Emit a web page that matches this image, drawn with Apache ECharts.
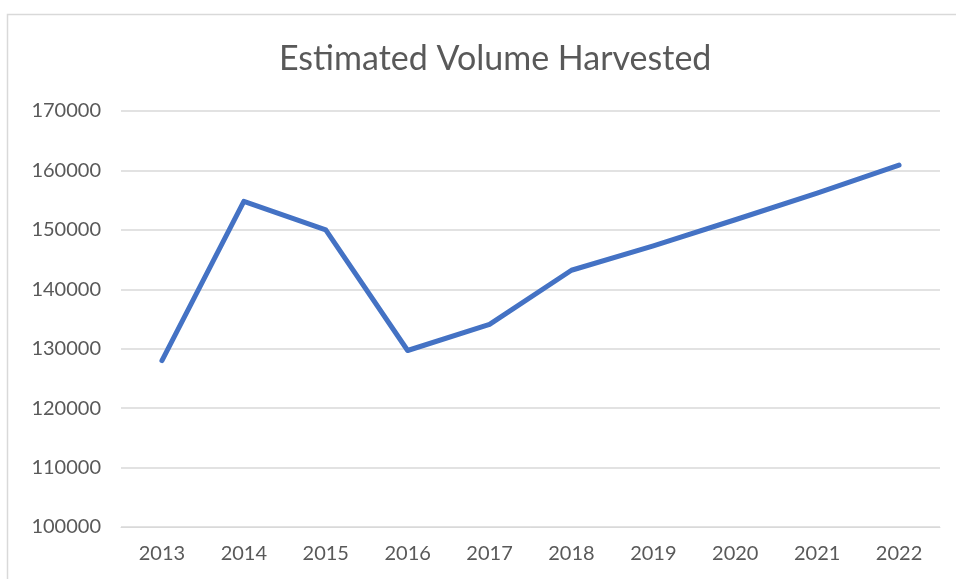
<!DOCTYPE html>
<html style="height: 100%">
<head>
    <meta charset="UTF-8">
    <title>Estimated Volume Harvested</title>
</head>
<body style="height: 100%; margin: 0">
<div id="container" style="width: 956px; height: 579px"></div>
<script src="https://cdn.jsdelivr.net/npm/echarts@6/dist/echarts.min.js"></script>
<script>
    var years = ['2013', '2014', '2015', '2016', '2017', '2018', '2019', '2020', '2021', '2022'];
    var volume = [128000, 154800, 150000, 129700, 134100, 143200, 147300, 151700, 156200, 160900];

    var textColor = '#595959';
    var fontName = 'Lato, "Noto Sans", sans-serif';

    var myChart = echarts.init(document.getElementById('container'));
    var option = {
        backgroundColor: '#fff',
        // chart border, only the top and left edges are visible in the picture
        graphic: [{
            type: 'rect',
            left: 5, top: 12,
            shape: { width: 1000, height: 600 },
            style: { fill: 'none', stroke: '#d9d9d9', lineWidth: 1.5 },
            silent: true
        }],
        title: {
            text: 'Estimated Volume Harvested',
            left: 274,
            top: 37,
            textStyle: { color: textColor, fontSize: 34, fontWeight: 'normal', fontFamily: fontName }
        },
        grid: { left: 121, right: 16, top: 111, bottom: 52 },
        xAxis: {
            type: 'category',
            data: years,
            boundaryGap: true,
            axisLine: { lineStyle: { color: '#d9d9d9', width: 1 } },
            axisTick: { show: false },
            axisLabel: { color: textColor, fontSize: 20, fontFamily: fontName, margin: 17 }
        },
        yAxis: {
            type: 'value',
            min: 100000,
            max: 170000,
            interval: 10000,
            axisLine: { show: false },
            axisTick: { show: false },
            axisLabel: {
                color: textColor, fontSize: 20, fontFamily: fontName, margin: 20,
                formatter: function (v) { return String(v); }
            },
            splitLine: { lineStyle: { color: '#d9d9d9', width: 1.5 } }
        },
        series: [{
            type: 'line',
            data: volume,
            showSymbol: false,
            lineStyle: { color: '#4472c4', width: 5, cap: 'round', join: 'round' },
            itemStyle: { color: '#4472c4' }
        }]
    };
    myChart.setOption(option);
</script>
</body>
</html>
